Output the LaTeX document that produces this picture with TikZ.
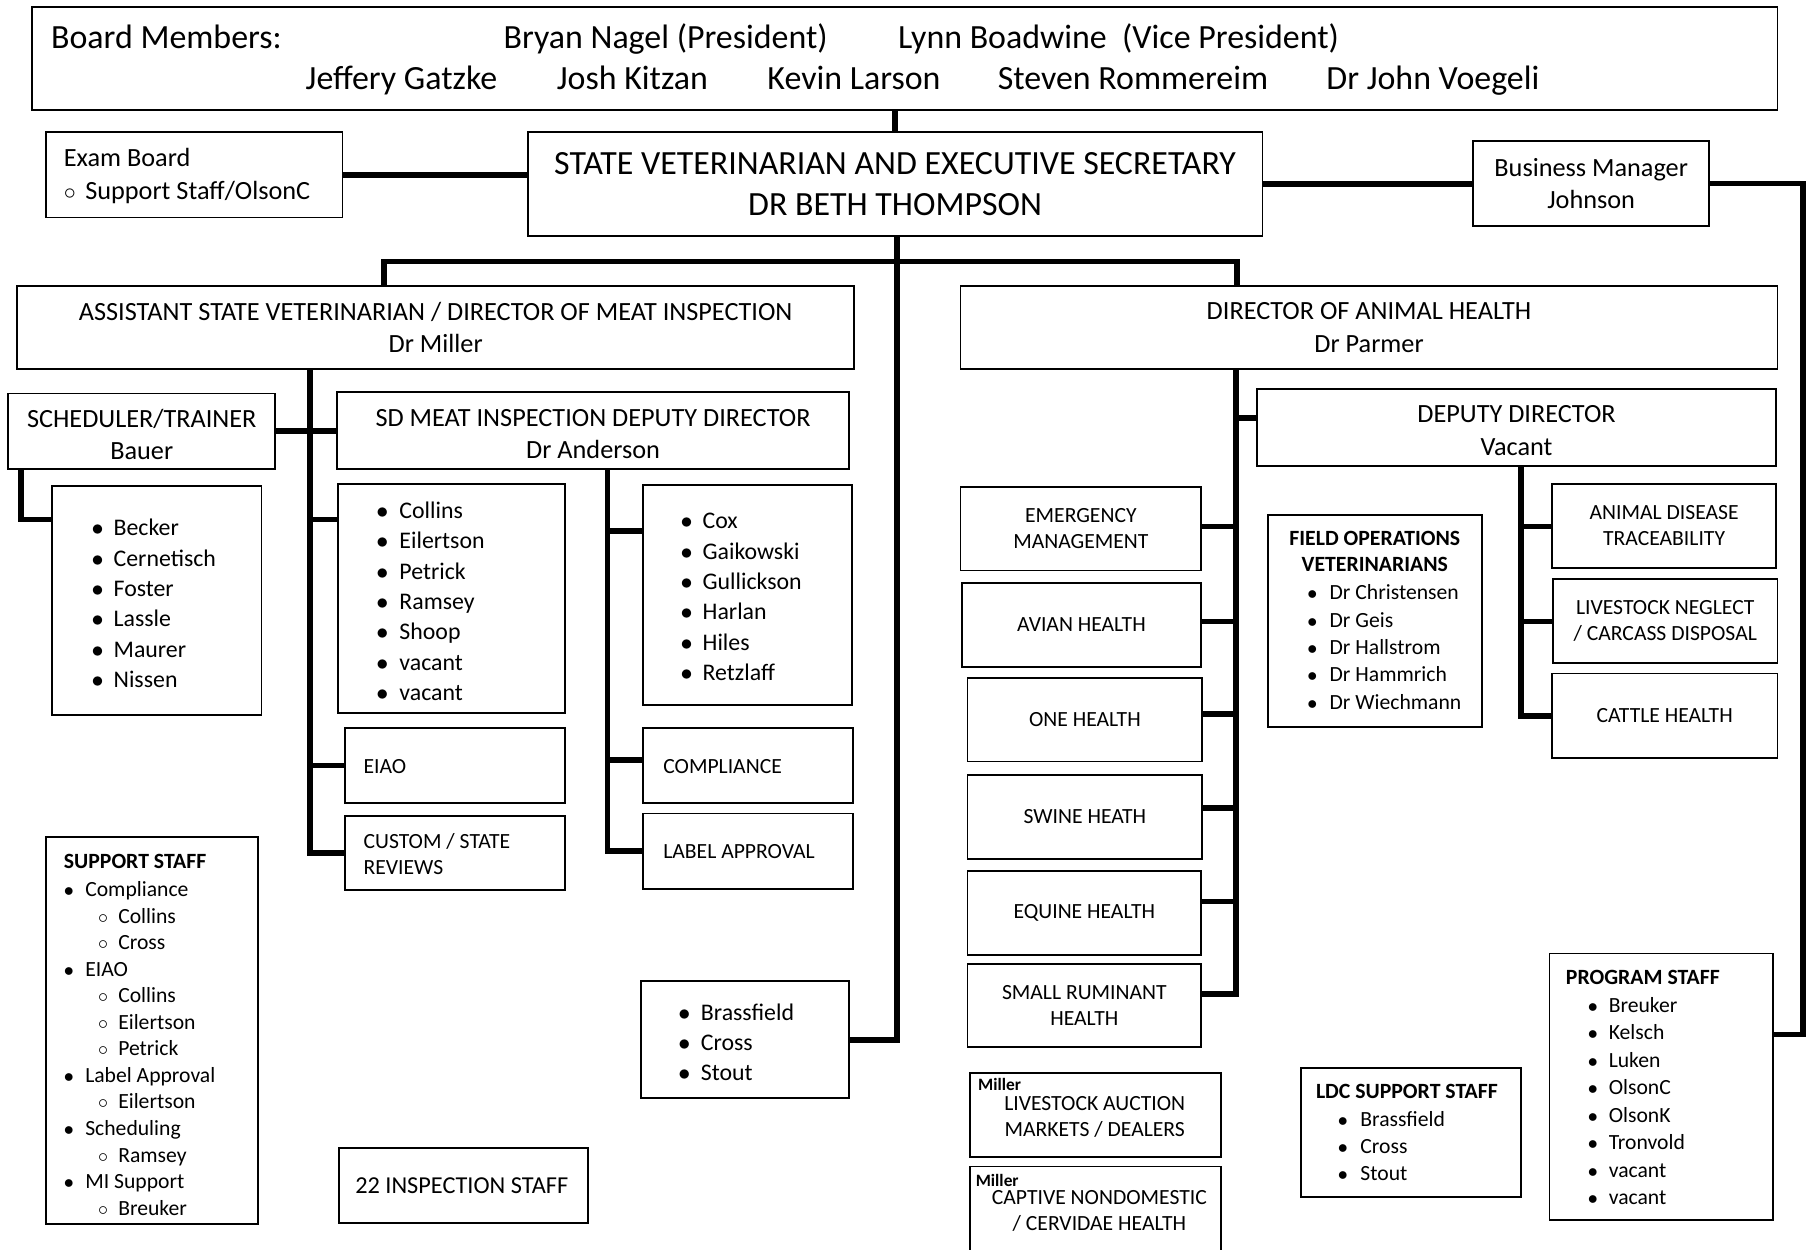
\documentclass[tikz,border=0pt]{standalone}
\usepackage{fontspec}
\setmainfont{Carlito}
\usetikzlibrary{fit}
\newcommand\fs[2]{\fontsize{#1}{#2}\selectfont}
\newcommand\bl[2]{\makebox[#1pt][l]{$\bullet$}#2}
\newcommand\ci[2]{\makebox[#1pt][l]{$\circ$}#2}
\newcommand\bx[5]{\path (#2,#3) coordinate (#1-a) (#4,#5) coordinate (#1-b); \node[box, fit=(#1-a)(#1-b)] (#1) {};}
\begin{document}
\begin{tikzpicture}[x=1pt,y=-1pt,
 box/.style={draw, line width=1.6pt, inner sep=0pt},
 conn/.style={line width=5pt},
 txt/.style={inner sep=0pt, align=center},
 ltxt/.style={inner sep=0pt, align=left, anchor=west},
 lone/.style={inner sep=0pt, anchor=west},
 big/.style={font=\fs{29.3}{35}},
 mid/.style={font=\fs{22.7}{28}},
 lst/.style={font=\fs{20.6}{26.2}},
 sml/.style={font=\fs{18.7}{22.5}},
 hd/.style={font=\bfseries\fs{18.8}{22.4}},
 mil/.style={inner sep=0pt, anchor=base west, font=\bfseries\fs{15}{15}},
]
\useasboundingbox (0,0) rectangle (1571,1080);
\fill[white] (0,0) rectangle (1571,1080);
\clip (0,0) rectangle (1571,1080);

% ---------- boxes ----------
\bx{board}{28}{6}{1536}{95}
\bx{stv}{456}{114}{1091}{204}
\bx{exam}{40}{114}{296}{188}
\bx{bmgr}{1273}{122}{1477}{195}
\bx{asst}{15}{247}{738}{319}
\bx{dah}{830}{247}{1536}{319}
\bx{sched}{7}{340}{238}{405}
\bx{sdd}{291}{339}{734}{405}
\bx{becker}{45}{420}{226}{618}
\bx{collins}{292}{418}{488}{616}
\bx{eiao}{298}{629}{488}{694}
\bx{custom}{298}{705}{488}{769}
\bx{cox}{556}{419}{736}{609}
\bx{compl}{556}{629}{737}{694}
\bx{lab}{556}{703}{737}{768}
\bx{brass}{554}{848}{734}{949}
\bx{insp}{293}{992}{508}{1057}
\bx{supp}{40}{723}{223}{1058}
\bx{dd}{1086}{336}{1535}{403}
\bx{emerg}{830}{421}{1038}{493}
\bx{avian}{831}{504}{1038}{576}
\bx{one}{836}{586}{1039}{658}
\bx{swine}{836}{670}{1039}{742}
\bx{equine}{836}{753}{1038}{825}
\bx{rum}{836}{833}{1038}{905}
\bx{fov}{1096}{445}{1281}{628}
\bx{ads}{1341}{418}{1535}{491}
\bx{lsn}{1342}{500}{1536}{573}
\bx{cattle}{1341}{582}{1536}{655}
\bx{mila}{838}{927}{1055}{1000}
\bx{milb}{838}{1008}{1055}{1095}
\bx{ldc}{1124}{923}{1314}{1034}
\bx{prog}{1339}{824}{1532}{1054}

% ---------- texts ----------
\node[big, inner sep=0pt, anchor=base west] (b0) at (44,42) {Board Members:};
\node[big, inner sep=0pt, anchor=base west] (b1) at (435,42) {Bryan Nagel (President)};
\node[big, inner sep=0pt, anchor=base west] (b2) at (776,42) {Lynn Boadwine\ \ (Vice President)};
\node[big, inner sep=0pt, anchor=base west] (b3) at (264,77) {Jeffery Gatzke};
\node[big, inner sep=0pt, anchor=base west] (b4) at (481,77) {Josh Kitzan};
\node[big, inner sep=0pt, anchor=base west] (b5) at (663,77) {Kevin Larson};
\node[big, inner sep=0pt, anchor=base west] (b6) at (862,77) {Steven Rommereim};
\node[big, inner sep=0pt, anchor=base west] (b7) at (1146,77) {Dr John Voegeli};

\node[txt, big] (stv-t) at (stv) {STATE VETERINARIAN AND EXECUTIVE SECRETARY\\DR BETH THOMPSON};
\node[ltxt, mid] (exam-t) at (55,152) {Exam Board\\\ci{18.5}{Support Staff/OlsonC}};
\node[txt, mid] (bmgr-t) at (bmgr) {Business Manager\\Johnson};
\node[txt, mid] (asst-t) at (asst) {ASSISTANT STATE VETERINARIAN / DIRECTOR OF MEAT INSPECTION\\Dr Miller};
\node[txt, mid] (dah-t) at (dah) {DIRECTOR OF ANIMAL HEALTH\\Dr Parmer};
\node[txt, font=\fs{22.7}{27}, yshift=-3pt] (sched-t) at (sched) {SCHEDULER/TRAINER\\Bauer};
\node[txt, font=\fs{22.7}{27}, yshift=-3pt] (sdd-t) at (sdd) {SD MEAT INSPECTION DEPUTY DIRECTOR\\Dr Anderson};
\node[txt, mid, yshift=-2.5pt] (dd-t) at (dd) {DEPUTY DIRECTOR\\Vacant};

\node[ltxt, lst] (becker-t) at (79,521.5) {\bl{19}{Becker}\\\bl{19}{Cernetisch}\\\bl{19}{Foster}\\\bl{19}{Lassle}\\\bl{19}{Maurer}\\\bl{19}{Nissen}};
\node[ltxt, lst] (collins-t) at (325,519.5) {\bl{20}{Collins}\\\bl{20}{Eilertson}\\\bl{20}{Petrick}\\\bl{20}{Ramsey}\\\bl{20}{Shoop}\\\bl{20}{vacant}\\\bl{20}{vacant}};
\node[ltxt, lst] (cox-t) at (588,516) {\bl{19}{Cox}\\\bl{19}{Gaikowski}\\\bl{19}{Gullickson}\\\bl{19}{Harlan}\\\bl{19}{Hiles}\\\bl{19}{Retzlaff}};
\node[ltxt, lst] (brass-t) at (586,900.8) {\bl{19.5}{Brassfield}\\\bl{19.5}{Cross}\\\bl{19.5}{Stout}};

\node[lone, sml] (eiao-t) at (314,662) {EIAO};
\node[ltxt, font=\fs{18.7}{22}] (custom-t) at (314,738) {CUSTOM / STATE\\REVIEWS};
\node[lone, sml] (compl-t) at (573,662) {COMPLIANCE};
\node[lone, sml] (lab-t) at (573,736) {LABEL APPROVAL};
\node[txt, font=\fs{21}{25}] (insp-t) at (399,1025) {22 INSPECTION STAFF};

\node[lone, hd] (supp-h) at (55,744) {SUPPORT STAFF};
\node[ltxt, font=\fs{18.7}{22.93}] (supp-t) at (55,906) {\bl{18.5}{Compliance}\\
\hspace*{29.5pt}\ci{17.5}{Collins}\\
\hspace*{29.5pt}\ci{17.5}{Cross}\\
\bl{18.5}{EIAO}\\
\hspace*{29.5pt}\ci{17.5}{Collins}\\
\hspace*{29.5pt}\ci{17.5}{Eilertson}\\
\hspace*{29.5pt}\ci{17.5}{Petrick}\\
\bl{18.5}{Label Approval}\\
\hspace*{29.5pt}\ci{17.5}{Eilertson}\\
\bl{18.5}{Scheduling}\\
\hspace*{29.5pt}\ci{17.5}{Ramsey}\\
\bl{18.5}{MI Support}\\
\hspace*{29.5pt}\ci{17.5}{Breuker}};

\node[txt, sml] (emerg-t) at (emerg) {EMERGENCY\\MANAGEMENT};
\node[txt, sml] (avian-t) at (avian) {AVIAN HEALTH};
\node[txt, sml] (one-t) at (one) {ONE HEALTH};
\node[txt, sml] (swine-t) at (swine) {SWINE HEATH};
\node[txt, sml] (equine-t) at (equine) {EQUINE HEALTH};
\node[txt, sml] (rum-t) at (rum) {SMALL RUMINANT\\HEALTH};
\node[txt, sml] (ads-t) at (ads) {ANIMAL DISEASE\\TRACEABILITY};
\node[txt, sml] (lsn-t) at (lsn) {LIVESTOCK NEGLECT\\/ CARCASS DISPOSAL};
\node[txt, sml] (cattle-t) at (cattle) {CATTLE HEALTH};

\node[txt, hd] (fov-h) at (1188,476.5) {FIELD OPERATIONS\\VETERINARIANS};
\node[ltxt, font=\fs{18.7}{23.6}] (fov-t) at (1129.5,559.2) {\bl{19.3}{Dr Christensen}\\\bl{19.3}{Dr Geis}\\\bl{19.3}{Dr Hallstrom}\\\bl{19.3}{Dr Hammrich}\\\bl{19.3}{Dr Wiechmann}};

\node[mil] (mila-m) at (845,942) {Miller};
\node[txt, sml] (mila-t) at (946,965) {LIVESTOCK AUCTION\\MARKETS / DEALERS};
\node[mil] (milb-m) at (843,1025) {Miller};
\node[txt, sml] (milb-t) at (950,1046) {CAPTIVE NONDOMESTIC\\/ CERVIDAE HEALTH};

\node[lone, hd] (ldc-h) at (1137,943.5) {LDC SUPPORT STAFF};
\node[ltxt, font=\fs{18.7}{23.3}] (ldc-t) at (1155.8,990.7) {\bl{19.6}{Brassfield}\\\bl{19.6}{Cross}\\\bl{19.6}{Stout}};
\node[lone, hd] (prog-h) at (1353,845) {PROGRAM STAFF};
\node[ltxt, font=\fs{18.7}{23.7}] (prog-t) at (1372,951.4) {\bl{18}{Breuker}\\\bl{18}{Kelsch}\\\bl{18}{Luken}\\\bl{18}{OlsonC}\\\bl{18}{OlsonK}\\\bl{18}{Tronvold}\\\bl{18}{vacant}\\\bl{18}{vacant}};

% ---------- connectors ----------
\draw[conn] (stv.north) -- (stv.north |- board.south);
\draw[conn] (exam.east) -- (exam.east -| stv.west);
\draw[conn] (stv.east) -- (stv.east -| bmgr.west);
\coordinate (rt) at (1558,894);
\draw[conn] (bmgr.east) -| (rt) -- (rt -| prog.east);
\coordinate (sb) at (775,899);
\draw[conn] (stv.south -| sb) -- (sb) -- (sb -| brass.east);
\coordinate (sl) at (332,226);
\coordinate (sr) at (1069,226);
\draw[conn] (sl |- asst.north) -- (sl) -- (sr) -- (sr |- dah.north);

\coordinate (atr) at (268,319);
\draw[conn] (atr) |- (custom.west);
\coordinate (a1) at (268,449);
\draw[conn] (a1) -- (a1 -| collins.west);
\draw[conn] (eiao.west) -- (eiao.west -| atr);
\draw[conn] (sched.east) -- (sched.east -| sdd.west);
\coordinate (s0) at (18,405);
\coordinate (s1) at (45,449);
\draw[conn] (s0) |- (s1 -| becker.west);

\coordinate (dtr) at (525,405);
\draw[conn] (dtr) |- (lab.west);
\coordinate (d1) at (525,459);
\draw[conn] (d1) -- (d1 -| cox.west);
\coordinate (d2) at (525,657);
\draw[conn] (d2) -- (d2 -| compl.west);

\coordinate (htr) at (1068,319);
\coordinate (h6) at (1068,859);
\draw[conn] (htr) -- (h6) -- (h6 -| rum.east);
\coordinate (h0) at (1068,361);
\draw[conn] (h0) -- (h0 -| dd.west);
\coordinate (h1) at (1068,455);
\draw[conn] (h1) -- (h1 -| emerg.east);
\coordinate (h2) at (1068,537);
\draw[conn] (h2) -- (h2 -| avian.east);
\coordinate (h3) at (1068,617);
\draw[conn] (h3) -- (h3 -| one.east);
\coordinate (h4) at (1068,698);
\draw[conn] (h4) -- (h4 -| swine.east);
\coordinate (h5) at (1068,779);
\draw[conn] (h5) -- (h5 -| equine.east);

\coordinate (qtr) at (1314,403);
\draw[conn] (qtr) |- (cattle.west);
\coordinate (q1) at (1314,455);
\draw[conn] (q1) -- (q1 -| ads.west);
\coordinate (q2) at (1314,537);
\draw[conn] (q2) -- (q2 -| lsn.west);
\end{tikzpicture}
\end{document}
